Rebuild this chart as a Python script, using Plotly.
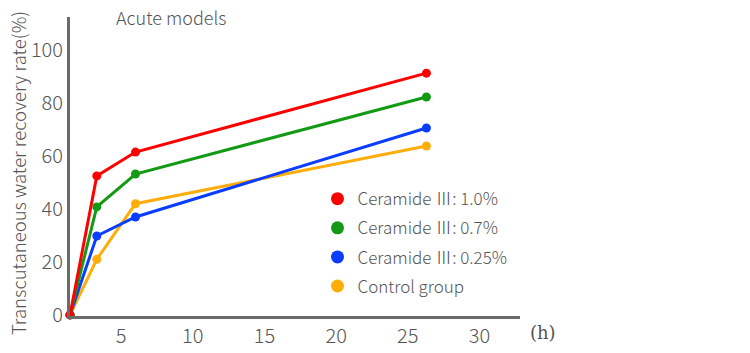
import plotly.graph_objects as go

hours = [1.43, 3.3, 6.0, 26.3]
series_names = ["Ceramide Ⅲ: 1.0%", "Ceramide Ⅲ: 0.7%", "Ceramide Ⅲ: 0.25%", "Control group"]
red_vals = [0, 52.5, 61.5, 91.3]
green_vals = [0, 40.8, 53.2, 82.3]
blue_vals = [0, 29.8, 37.0, 70.6]
orange_vals = [0, 21.0, 42.0, 63.8]
colors = ["#ff0000", "#139a14", "#0a3dff", "#ffad0a"]
x_ticks = [5, 10, 15, 20, 25, 30]
y_ticks = [0, 20, 40, 60, 80, 100]

FONT = "Noto Sans CJK JP"
GRAY = "#555555"
W = 300

fig = go.Figure()
all_vals = [red_vals, green_vals, blue_vals, orange_vals]
for vals, c in zip(all_vals[::-1], colors[::-1]):
    fig.add_trace(go.Scatter(x=hours, y=vals, mode="lines+markers",
                             line=dict(color=c, width=3),
                             marker=dict(color=c, size=9),
                             showlegend=False, cliponaxis=False))
for i, (name, c) in enumerate(zip(series_names, colors)):
    fig.add_trace(go.Scatter(x=[None], y=[None], mode="markers", name=name,
                             legendgroup=f"g{i}",
                             marker=dict(color=c, size=13)))

fig.update_layout(
    width=750, height=353,
    margin=dict(l=70, r=230, t=17, b=37, autoexpand=False),
    plot_bgcolor="white", paper_bgcolor="white",
    font=dict(family=FONT, color=GRAY, size=16, weight=W),
    legend=dict(x=0.55, y=0.451, xanchor="left", yanchor="top",
                font=dict(size=17, color=GRAY, family=FONT, weight=W),
                bgcolor="rgba(0,0,0,0)", tracegroupgap=4, itemwidth=30),
    showlegend=True,
)
fig.update_xaxes(range=[1.43, 32.83], tickvals=x_ticks, showgrid=False, zeroline=False,
                 showline=True, linecolor="#6b6b6b", linewidth=3, ticks="",
                 automargin=False,
                 tickfont=dict(size=20, color=GRAY, family=FONT, weight=W))
fig.update_yaxes(range=[-0.4, 112.5], tickvals=y_ticks, showgrid=False, zeroline=False,
                 showline=True, linecolor="#6b6b6b", linewidth=3, ticks="",
                 automargin=False,
                 tickfont=dict(size=20, color=GRAY, family=FONT, weight=W))
fig.add_annotation(text="Transcutaneous water recovery rate(%)", xref="paper", yref="paper",
                   x=-70/450 + 18/450, y=(316-173)/299, xanchor="center", yanchor="middle",
                   textangle=-90, showarrow=False,
                   font=dict(size=18.5, color=GRAY, family=FONT, weight=W))
fig.add_annotation(text="Acute models", xref="paper", yref="paper", x=(114-70)/450, y=1.0,
                   xanchor="left", yanchor="middle", showarrow=False,
                   font=dict(size=18, color=GRAY, family=FONT, weight=W))
fig.add_annotation(text="(h)", xref="paper", yref="paper", x=(528-70)/450, y=0,
                   xanchor="left", yanchor="top", showarrow=False, yshift=-4,
                   font=dict(size=18, color=GRAY, family="DejaVu Serif"))

fig.write_html("out.html")
